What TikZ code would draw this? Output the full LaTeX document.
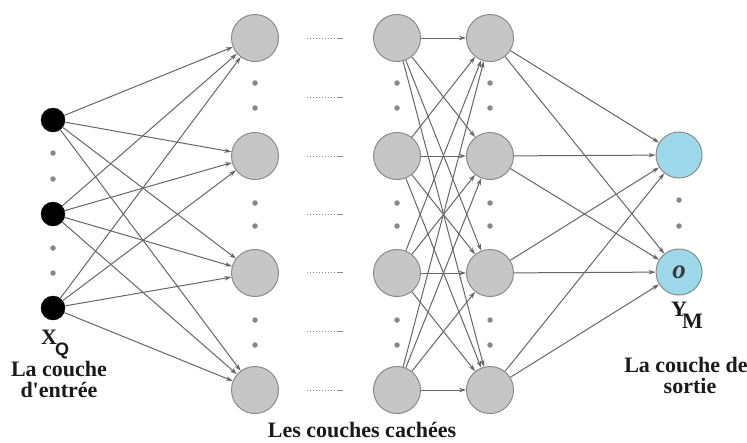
\documentclass[tikz,border=0pt]{standalone}
\usepackage{fontspec}
\setmainfont{Liberation Serif}
\setsansfont{Liberation Sans}
\usetikzlibrary{arrows.meta}
\definecolor{nodegray}{HTML}{C6C6C6}
\definecolor{edgegray}{HTML}{8A8A8A}
\definecolor{linegray}{HTML}{666666}
\definecolor{outblue}{HTML}{9DD9EA}
\definecolor{dotgray}{HTML}{888888}
\definecolor{textdark}{HTML}{1A1A1A}
\begin{document}
\begin{tikzpicture}[x=1pt,y=-1pt,
  inneuron/.style={circle,fill=black,draw=black,minimum size=24pt,inner sep=0pt},
  hneuron/.style={circle,fill=nodegray,draw=edgegray,line width=1pt,minimum size=47pt,inner sep=0pt},
  oneuron/.style={circle,fill=outblue,draw=edgegray,line width=1pt,minimum size=46pt,inner sep=0pt},
  conn/.style={draw=linegray,line width=1pt,-{Stealth[length=7pt,width=4.5pt]}},
  vdot/.style={circle,fill=dotgray,minimum size=5.5pt,inner sep=0pt},
  lbl/.style={font=\fontsize{22}{22}\selectfont\bfseries,text=textdark,inner sep=0pt,anchor=base},
  dashline/.style={draw=dotgray,line width=1pt,dotted},
  dashend/.style={draw=dotgray,line width=1pt},
  ]
\useasboundingbox (0,0) rectangle (747,442);
\fill[white] (0,0) rectangle (747,442);

% input layer
\node[inneuron] (i1) at (53,120) {};
\node[inneuron] (i2) at (53,214) {};
\node[inneuron] (i3) at (53,308) {};
\foreach \y [count=\k] in {153,179,248,273} \node[vdot] (di\k) at (53,\y) {};

% hidden layers
\foreach \col/\x in {h1/255,h2/397,h3/490}{
  \foreach \n/\y in {a/38,b/156,c/273,d/390}
    \node[hneuron] (\col\n) at (\x,\y) {};
  \foreach \y [count=\k] in {83,108,203,226,320,345}
    \node[vdot] (d\col\k) at (\x,\y) {};
}

% output layer
\node[oneuron] (o1) at (679,155) {};
\node[oneuron,font=\fontsize{27}{27}\selectfont\bfseries\itshape,text=textdark!85] (o2) at (679,272) {o};
\node[vdot] (do1) at (679,200) {};
\node[vdot] (do2) at (679,226) {};

% dotted gaps between hidden layers
\foreach \y [count=\k] in {38,97,156,214,272,331,390}{
  \coordinate (ga\k) at (307,\y);
  \coordinate (gb\k) at (337,\y);
  \coordinate (gc\k) at (343,\y);
  \draw[dashline] (ga\k) -- (gb\k);
  \draw[dashend] (gb\k) -- (gc\k);
}

% connections
\foreach \a in {i1,i2,i3}
  \foreach \b in {h1a,h1b,h1c,h1d}
    \draw[conn] (\a) -- (\b);
\foreach \a in {h2a,h2b,h2c,h2d}
  \foreach \b in {h3a,h3b,h3c,h3d}
    \draw[conn] (\a) -- (\b);
\foreach \a in {h3a,h3b,h3c,h3d}
  \foreach \b in {o1,o2}
    \draw[conn] (\a) -- (\b);

% labels
\node[lbl,anchor=base west] (xq) at (41,344) {X\kern-2pt\raisebox{-11pt}{\sffamily\fontsize{18}{18}\selectfont Q}};
\node[lbl] (in1) at (59,376) {La couche};
\node[lbl] (in2) at (59,397) {d\textquotesingle entrée};
\node[lbl,anchor=base west] (ym) at (671,316) {Y\kern-5pt\raisebox{-12pt}{M}};
\node[lbl] (out1) at (686,372) {La couche de};
\node[lbl] (out2) at (690,393) {sortie};
\node[lbl] (hid) at (362,437) {Les couches cachées};
\end{tikzpicture}
\end{document}
